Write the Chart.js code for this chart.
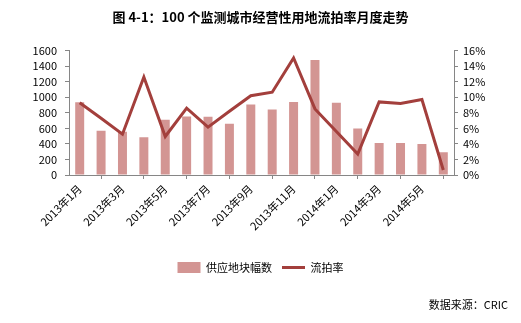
<!DOCTYPE html>
<html lang="zh">
<head>
    <meta charset="UTF-8">
    <script src="https://cdn.jsdelivr.net/npm/chart.js"></script>
    <title>流拍率月度走势</title>
    <style>
        body { margin: 0; background: #fff; }
    </style>
</head>
<body>
<canvas id="c" width="521" height="323"></canvas>
<script>
    // 月份
    const months = ['2013年1月', '2013年2月', '2013年3月', '2013年4月', '2013年5月', '2013年6月',
        '2013年7月', '2013年8月', '2013年9月', '2013年10月', '2013年11月', '2013年12月',
        '2014年1月', '2014年2月', '2014年3月', '2014年4月', '2014年5月', '2014年6月'];
    // 供应地块幅数
    const supply = [935, 568, 555, 486, 710, 753, 748, 658, 907, 843, 938, 1480, 929, 598, 413, 413, 400, 292];
    // 流拍率 (%)
    const rate = [9.3, 7.3, 5.25, 12.6, 4.95, 8.6, 6.15, 8.2, 10.2, 10.65, 15.05, 8.5, 5.6, 2.7, 9.4, 9.2, 9.7, 0.65];

    const FONT = '"Noto Sans CJK SC", "DejaVu Sans", sans-serif';
    const axisGray = '#868686';

    const sourceNote = {
        id: 'sourceNote',
        afterDraw(chart) {
            const ctx = chart.ctx;
            ctx.save();
            ctx.font = '11px ' + FONT;
            ctx.fillStyle = '#000';
            ctx.textAlign = 'right';
            ctx.textBaseline = 'middle';
            ctx.fillText('数据来源：CRIC', 508, 305);
            ctx.restore();
        }
    };

    new Chart(document.getElementById('c'), {
        data: {
            labels: months,
            datasets: [{
                type: 'bar',
                label: '供应地块幅数',
                data: supply,
                yAxisID: 'y',
                backgroundColor: '#D39593',
                categoryPercentage: 1,
                barPercentage: 0.42,
                pointStyle: 'rect',
                order: 2
            }, {
                type: 'line',
                label: '流拍率',
                data: rate,
                yAxisID: 'y1',
                borderColor: '#A33F3C',
                backgroundColor: '#A33F3C',
                borderWidth: 3,
                pointRadius: 0,
                tension: 0,
                pointStyle: 'line',
                order: 1
            }]
        },
        options: {
            responsive: false,
            animation: false,
            devicePixelRatio: 1,
            layout: { padding: { top: 0, bottom: 40, left: 0, right: 0 } },
            scales: {
                x: {
                    offset: true,
                    grid: { display: true, offset: true, drawOnChartArea: false, tickLength: 4, color: axisGray },
                    border: { color: axisGray },
                    ticks: {
                        autoSkip: false,
                        minRotation: 45,
                        maxRotation: 45,
                        color: '#000',
                        font: { family: FONT, size: 11 },
                        callback: function (v, i) { return i % 2 === 0 ? this.getLabelForValue(v) : null; }
                    },
                    afterFit(s) { s.height = 77; }
                },
                y: {
                    position: 'left',
                    min: 0, max: 1600,
                    grid: { display: true, drawOnChartArea: false, tickLength: 4, color: axisGray },
                    border: { color: axisGray },
                    ticks: { stepSize: 200, autoSkip: false, padding: 8, color: '#000', font: { family: FONT, size: 11 }, callback: v => String(v) },
                    afterFit(s) { s.width = 69; }
                },
                y1: {
                    position: 'right',
                    min: 0, max: 16,
                    grid: { display: true, drawOnChartArea: false, tickLength: 4, color: axisGray },
                    border: { color: axisGray },
                    ticks: { stepSize: 2, autoSkip: false, padding: 5, color: '#000', font: { family: FONT, size: 11 }, callback: v => v + '%' },
                    afterFit(s) { s.width = 67; }
                }
            },
            plugins: {
                title: {
                    display: true,
                    text: '图 4-1：100 个监测城市经营性用地流拍率月度走势',
                    color: '#000',
                    font: { family: FONT, size: 13, weight: 'bold' },
                    padding: { top: 9, bottom: 26 }
                },
                legend: {
                    position: 'bottom',
                    labels: {
                        usePointStyle: true,
                        pointStyleWidth: 23,
                        color: '#000',
                        font: { family: FONT, size: 11 },
                        padding: 10,
                        sort: (a, b) => a.datasetIndex - b.datasetIndex
                    }
                },
                tooltip: { enabled: false }
            }
        },
        plugins: [sourceNote]
    });
</script>
</body>
</html>
